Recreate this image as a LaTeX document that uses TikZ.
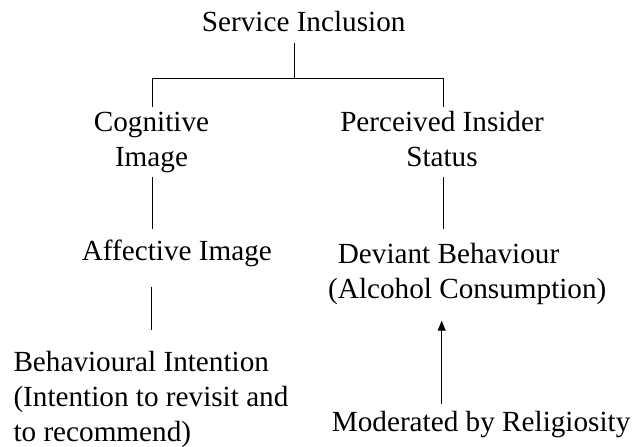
\documentclass[tikz,border=0pt]{standalone}
\usepackage{fontspec}
\setmainfont{Liberation Serif}
\usetikzlibrary{arrows.meta}
\begin{document}
\begin{tikzpicture}[x=1pt,y=-1pt,
  lbl/.style={inner sep=0pt, font=\fontsize{29.2}{35}\selectfont, align=left, anchor=base west},
  clbl/.style={inner sep=0pt, font=\fontsize{29.2}{35}\selectfont, align=center, anchor=base},
  link/.style={line width=1pt, black},
  arr/.style={link, -{Triangle[length=10pt,width=8pt]}}]
\useasboundingbox (0,0) rectangle (633,447);
% nodes (multi-line nodes are anchored at the baseline of their last line)
\node[lbl]  (si)  at (201.7,31.7) {Service Inclusion};
\node[clbl] (cog) at (151.5,166.7) {Cognitive\\Image};
\node[clbl] (pis) at (442,166.5) {Perceived Insider\\Status};
\node[lbl]  (aff) at (81.7,260) {Affective Image};
\node[lbl]  (dev) at (328,298.3) {\hspace{9.7pt}Deviant Behaviour\\(Alcohol Consumption)};
\node[lbl]  (beh) at (13.3,441.7) {Behavioural Intention\\(Intention to revisit and\\to recommend)};
\node[lbl]  (mod) at (331.7,431.7) {Moderated by Religiosity};
% connector end points
\coordinate (sit) at (294.3,42.7);
\coordinate (jn)  at (294.3,78.3);
\coordinate (cgt) at (152.5,106.5);
\coordinate (pit) at (443.3,107);
\coordinate (cgb) at (152.3,176.7);
\coordinate (aft) at (152.3,229);
\coordinate (pib) at (443.3,177);
\coordinate (dvt) at (443.3,229);
\coordinate (afb) at (151.7,286.7);
\coordinate (bht) at (151.7,330);
\coordinate (dvb) at (441.7,320.7);
\coordinate (mdt) at (441.7,404);
% connectors
\draw[link] (sit) -- (jn);
\draw[link] (cgt) -- (cgt |- jn) -- (pit |- jn) -- (pit);
\draw[link] (cgb) -- (aft);
\draw[link] (pib) -- (dvt);
\draw[link] (afb) -- (bht);
\draw[arr] (mdt) -- (dvb);
\end{tikzpicture}
\end{document}
